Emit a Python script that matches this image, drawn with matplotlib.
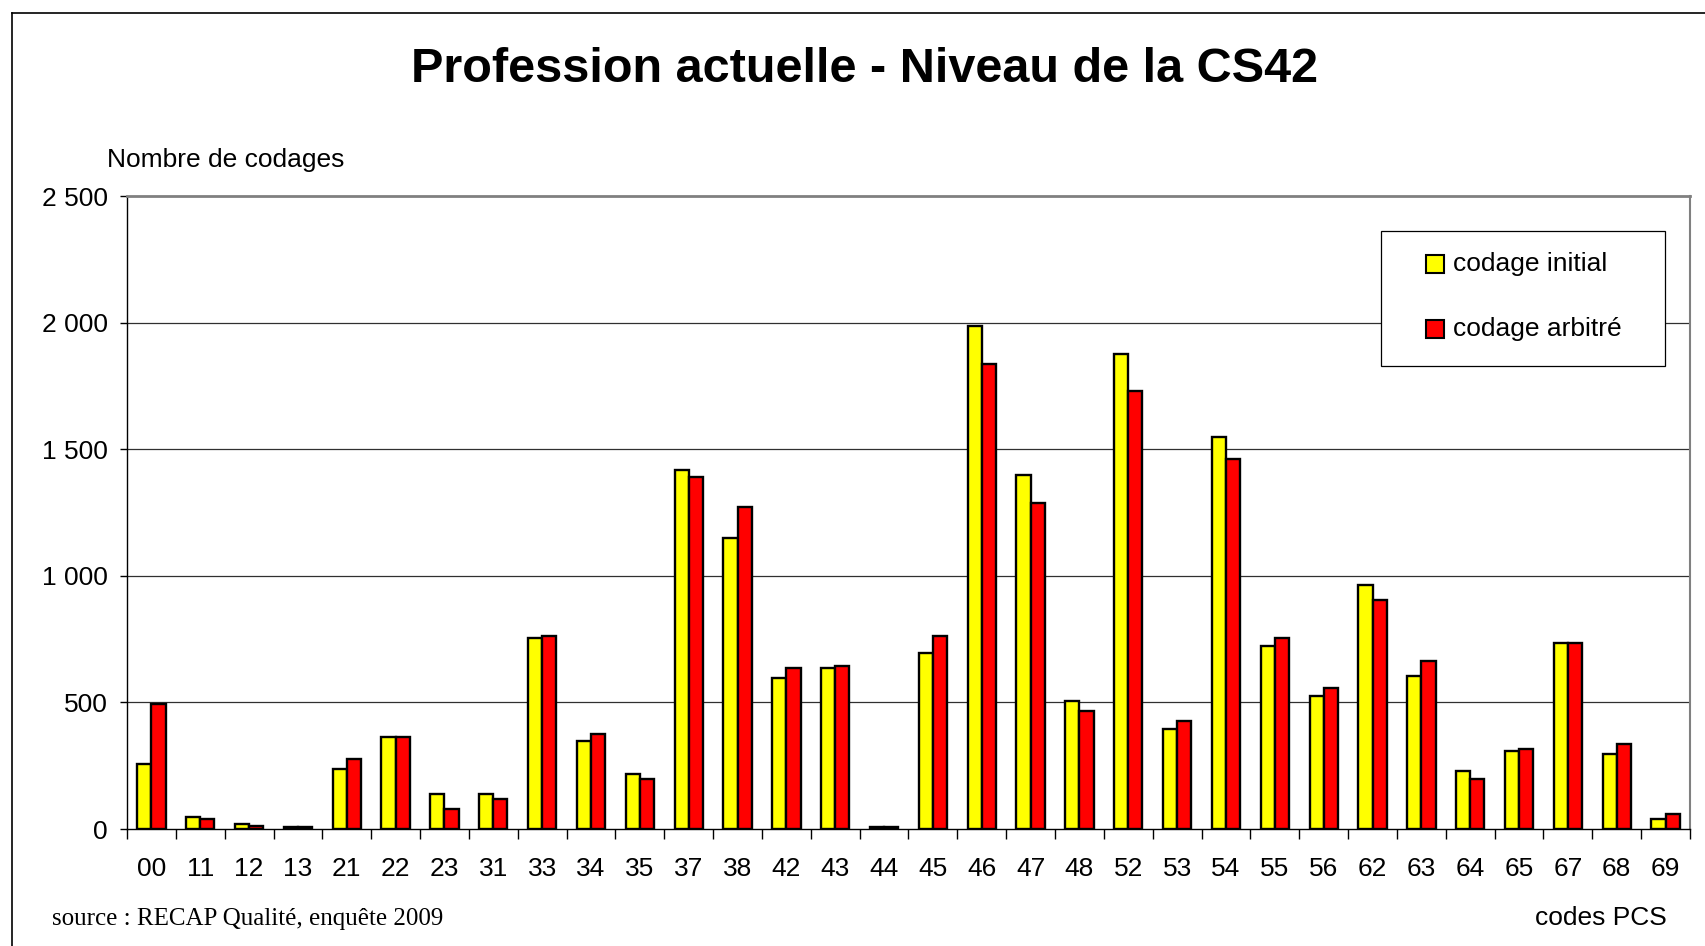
import matplotlib
matplotlib.use("Agg")
import matplotlib.pyplot as plt
import numpy as np
from matplotlib.patches import Rectangle
from matplotlib.lines import Line2D

codes = ["00","11","12","13","21","22","23","31","33","34","35","37","38","42","43","44",
         "45","46","47","48","52","53","54","55","56","62","63","64","65","67","68","69"]
codage_initial = [258, 48, 20, 8, 238, 365, 138, 138, 754, 349, 218, 1419, 1150, 595, 635, 8,
                  694, 1985, 1400, 505, 1877, 395, 1548, 723, 525, 962, 603, 228, 307, 733, 297, 40]
codage_arbitre = [495, 38, 10, 8, 277, 365, 78, 120, 764, 375, 199, 1390, 1271, 635, 645, 8,
                  764, 1836, 1289, 467, 1728, 425, 1460, 754, 555, 904, 664, 198, 317, 733, 337, 60]
series_labels = ["codage initial", "codage arbitré"]
series_colors = ["#FFFF00", "#FF0000"]
yticks = [0, 500, 1000, 1500, 2000, 2500]
ytick_labels = ["0", "500", "1 000", "1 500", "2 000", "2 500"]

plt.rcParams['font.family'] = ['Liberation Sans', 'DejaVu Sans']

W, H = 1706, 946
fig = plt.figure(figsize=(W/100, H/100), dpi=100)
ax = fig.add_axes([127/W, 1-829/H, (1690-127)/W, (829-196)/H])

x = np.arange(len(codes))
bw = 0.29
ax.bar(x - bw/2, codage_initial, bw, color=series_colors[0], edgecolor='black', linewidth=1.7, zorder=3)
ax.bar(x + bw/2, codage_arbitre, bw, color=series_colors[1], edgecolor='black', linewidth=1.7, zorder=3)

ax.set_xlim(-0.5, len(codes) - 0.5)
ax.set_ylim(0, 2500)
ax.set_yticks(yticks)
ax.set_yticklabels(ytick_labels, fontsize=19)
ax.set_xticks(x)
ax.set_xticklabels(codes, fontsize=19)
ax.set_xticks(np.arange(-0.5, len(codes)), minor=True)
ax.tick_params(axis='x', which='major', length=0, pad=20)
ax.tick_params(axis='x', which='minor', length=7, width=1, direction='out')
ax.tick_params(axis='y', which='major', length=5, width=1, direction='out', pad=9)

for y in yticks[1:-1]:
    ax.axhline(y, color='#303030', linewidth=0.9, zorder=1)

ax.spines['left'].set_color('black')
ax.spines['left'].set_linewidth(1)
ax.spines['bottom'].set_color('black')
ax.spines['bottom'].set_linewidth(1)
ax.spines['top'].set_color('#808080')
ax.spines['top'].set_linewidth(2)
ax.spines['right'].set_color('#808080')
ax.spines['right'].set_linewidth(1.5)

# Legend (drawn manually in figure pixel coordinates)
def fx(px):
    return px / W
def fy(py):
    return 1 - py / H

fig.add_artist(Rectangle((fx(1381), fy(366)), fx(1665) - fx(1381), fy(231) - fy(366),
                         facecolor='white', edgecolor='black', linewidth=0.9,
                         transform=fig.transFigure, zorder=10))
sq = 18
for lbl, col, yc in zip(series_labels, series_colors, [264, 329]):
    fig.add_artist(Rectangle((fx(1426), fy(yc + sq/2)), sq/W, sq/H,
                             facecolor=col, edgecolor='black', linewidth=1.5,
                             transform=fig.transFigure, zorder=11))
    fig.text(fx(1453), fy(yc), lbl, fontsize=19, ha='left', va='center', zorder=12)

# Texts
fig.text(865/W, 1-69/H, "Profession actuelle - Niveau de la CS42", fontsize=35,
         fontweight='bold', ha='center', va='center')
fig.text(107/W, 1-160/H, "Nombre de codages", fontsize=19, ha='left', va='center')
fig.text(52/W, 1-919/H, "source : RECAP Qualité, enquête 2009", fontsize=18,
         family=['Liberation Serif', 'DejaVu Serif'], ha='left', va='center')
fig.text(1667/W, 1-918/H, "codes PCS", fontsize=19, ha='right', va='center')

# Outer frame (top and left edges)
fig.add_artist(Line2D([12/W, 1], [1-13/H, 1-13/H], color='black', linewidth=1.2))
fig.add_artist(Line2D([12/W, 12/W], [0, 1-13/H], color='black', linewidth=1.2))

fig.savefig("out.png", dpi=100)
